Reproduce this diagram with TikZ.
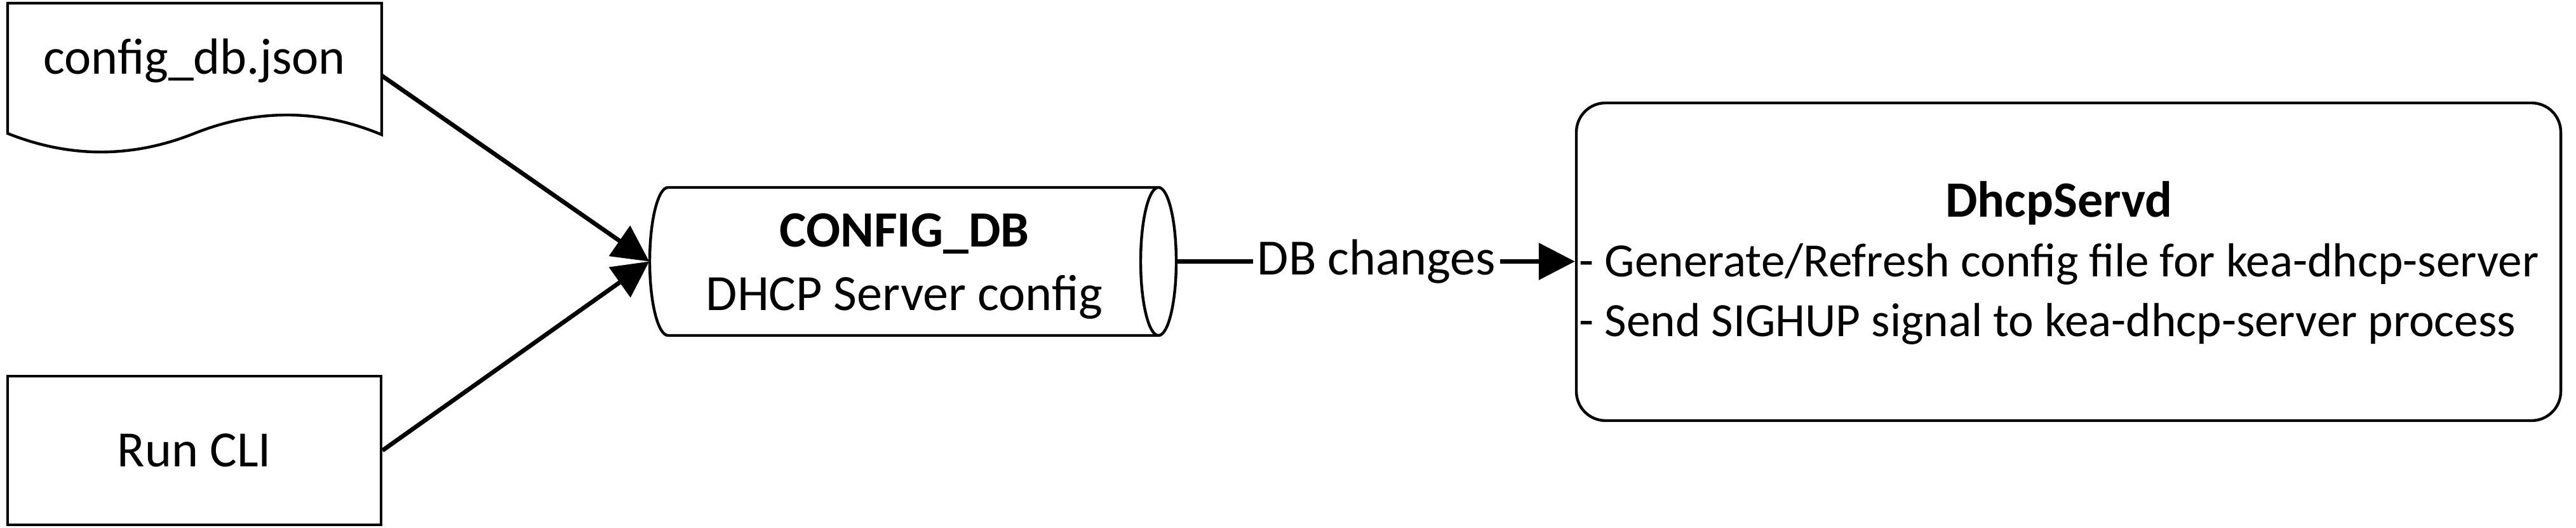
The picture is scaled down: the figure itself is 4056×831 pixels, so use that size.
\documentclass[tikz,border=0pt]{standalone}
\usepackage{fontspec}
\setmainfont{Carlito}
\usetikzlibrary{arrows.meta}
\begin{document}
\begin{tikzpicture}[x=0.25pt, y=-0.25pt,
  shp/.style={draw=black, line width=1.1pt},
  conn/.style={line width=1.7pt},
  arr/.style={conn, -{Triangle[length=14.25pt,width=14.25pt]}},
  txt/.style={font=\fontsize{20}{25}\selectfont, inner sep=0pt}]
\useasboundingbox (0,0) rectangle (4056,831);

% document shape
\draw[shp, line join=miter] (12,210) -- (12,5) -- (601,5) -- (601,212)
  .. controls (503,171) and (404,171) .. (306,210)
  .. controls (208,249) and (110,249) .. (12,210) -- cycle;
\node[txt, anchor=base] (doc) at (306,117) {config\_db.json};
\coordinate (docout) at (601,119);

% Run CLI
\node[shp, txt, rectangle, minimum width=147pt, minimum height=58.5pt] (cli) at (306,709) {Run CLI};

% cylinder CONFIG_DB
\node[minimum width=207.25pt, minimum height=58.25pt, inner sep=0pt] (cdb) at (1437.5,411.5) {};
\draw[shp] (1052,295) -- (1824,295) (1052,528) -- (1824,528)
  (1052,295) arc[start angle=90, end angle=270, x radius=7.25pt, y radius=29.125pt]
  (1824,411.5) ellipse[x radius=7pt, y radius=29.125pt];
\node[txt, align=center] (cdbtxt) at (1424,419) {\textbf{CONFIG\_DB}\\DHCP Server config};

% inputs
\draw[arr] (docout) -- (cdb.west);
\draw[arr] (cli.east) -- (cdb.west);

% server box
\node[shp, rounded corners=11.5pt, minimum width=387.5pt, minimum height=125pt] (srv) at (3257,412) {};
\node[inner sep=0pt, anchor=west, font=\fontsize{18.8}{23.5}\selectfont] (srvtxt) at (2486,417)
  {\begin{tabular}{@{}l@{}}
   \multicolumn{1}{@{}c@{}}{\fontsize{20}{23.5}\selectfont\bfseries DhcpServd}\\
   - Generate/Refresh config file for kea-dhcp-server\\
   - Send SIGHUP signal to kea-dhcp-server process
   \end{tabular}};

% DB changes
\node[txt, inner sep=1.5pt] (lbl) at (2167.5,411.5) {DB changes};
\draw[conn] (cdb.east) -- (lbl);
\draw[arr] (lbl) -- (lbl -| srv.west);
\end{tikzpicture}
\end{document}
